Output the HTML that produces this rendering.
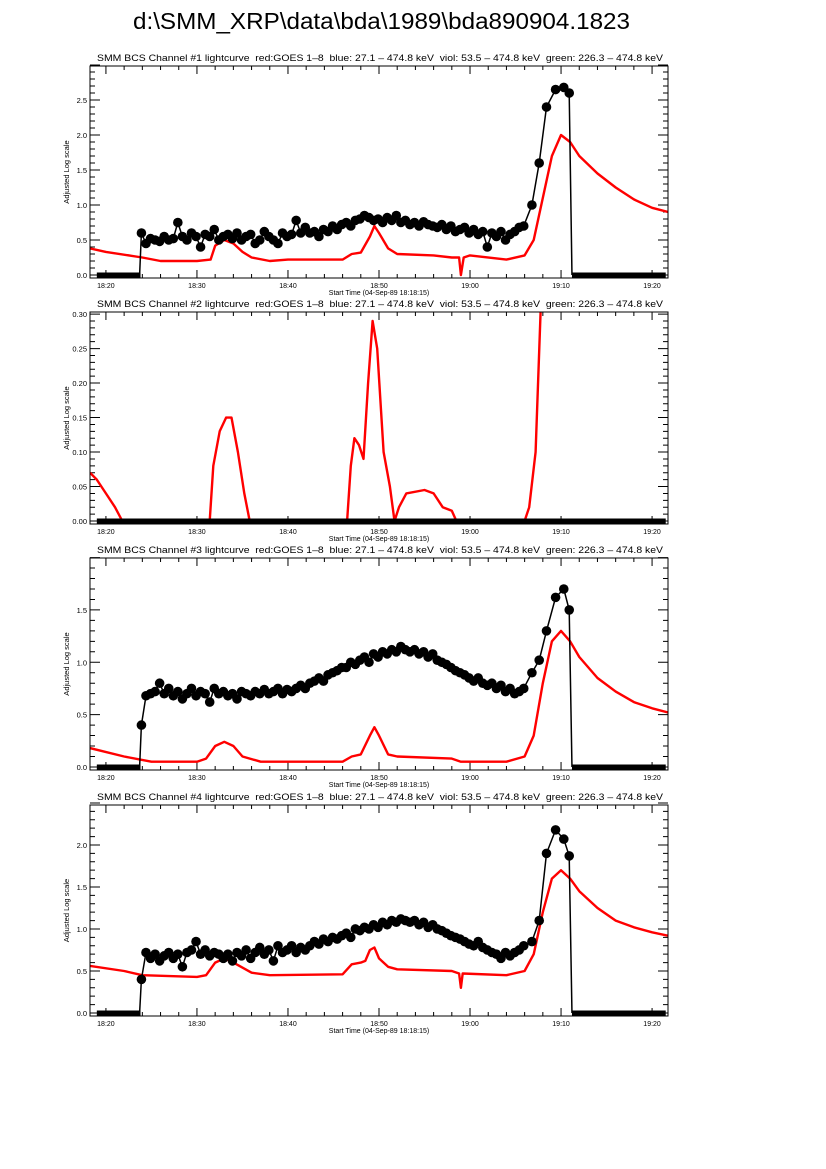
<!DOCTYPE html>
<html><head><meta charset="utf-8"><style>
body{margin:0;background:#fff;}
svg{display:block;}
svg text{font-family:"Liberation Sans",Arial,sans-serif;white-space:pre;}
</style></head><body>
<svg id="chart" width="826" height="1169" xmlns="http://www.w3.org/2000/svg">
<rect width="826" height="1169" fill="#fff"/>
<text x="133" y="29" font-size="23" font-family="Liberation Sans, sans-serif" textLength="497" lengthAdjust="spacingAndGlyphs">d:\SMM_XRP\data\bda\1989\bda890904.1823</text>
</svg>
<script>
// time in minutes after 18:00
const xTickLabels=["18:20","18:30","18:40","18:50","19:00","19:10","19:20"];
const xTickTimes=[20,30,40,50,60,70,80];
const bodyStart=23.9, bodyStep=0.5;
const peakTimes=[66.8,67.6,68.4,69.4,70.3,70.9];
const zeroSegsA=[[19,23.8],[71.2,81.5]];
const zeroSegsB=[[19,81.5]];
const tStart=18.25, tEnd=81.75;

const p1Body=[0.6,0.45,0.52,0.5,0.48,0.55,0.5,0.52,0.75,0.55,0.5,0.6,0.55,0.4,0.58,0.55,0.65,0.5,0.55,0.58,0.52,0.6,0.5,0.55,0.58,0.45,0.5,0.62,0.55,0.5,0.45,0.6,0.55,0.58,0.78,0.6,0.68,0.6,0.62,0.55,0.65,0.62,0.7,0.65,0.72,0.75,0.7,0.78,0.8,0.85,0.82,0.78,0.8,0.75,0.82,0.78,0.85,0.75,0.78,0.72,0.75,0.7,0.76,0.72,0.7,0.68,0.72,0.65,0.7,0.62,0.65,0.68,0.6,0.65,0.58,0.62,0.4,0.6,0.55,0.62,0.5,0.58,0.62,0.68,0.7];
const p1Peak=[1.0,1.6,2.4,2.65,2.68,2.6];
const p1RedT=[18.25,20,24,26,30,31.5,32,33,34,35,36,38,40,46,47,48,49,49.5,50,51,52,56,58,58.8,59,59.3,60,64,66,67,68,69,70,71,72,74,76,78,80,81.75];
const p1RedV=[0.38,0.33,0.25,0.2,0.2,0.22,0.42,0.5,0.45,0.33,0.25,0.2,0.22,0.22,0.3,0.32,0.55,0.7,0.6,0.38,0.3,0.28,0.25,0.25,0.0,0.25,0.28,0.22,0.28,0.5,1.1,1.7,2.0,1.9,1.7,1.45,1.25,1.08,0.96,0.9];

const p2RedT=[18.25,19,20,21,21.8,31.4,31.8,32.5,33.2,33.8,34.5,35.2,35.8,46.5,46.9,47.3,47.8,48.3,48.8,49.3,49.8,50.5,51.2,51.7,52.2,53,55,56,57,58,58.5,66,66.5,67.2,67.8];
const p2RedV=[0.07,0.06,0.04,0.02,0,0,0.08,0.13,0.15,0.15,0.1,0.04,0,0,0.08,0.12,0.11,0.09,0.2,0.29,0.25,0.1,0.05,0,0.02,0.04,0.045,0.04,0.02,0.015,0,0,0.02,0.1,0.32];

const p3Body=[0.4,0.68,0.7,0.72,0.8,0.7,0.75,0.68,0.72,0.65,0.7,0.75,0.68,0.72,0.7,0.62,0.75,0.7,0.72,0.68,0.7,0.65,0.72,0.7,0.68,0.72,0.7,0.74,0.7,0.72,0.75,0.7,0.74,0.72,0.75,0.78,0.75,0.8,0.82,0.85,0.82,0.88,0.9,0.92,0.95,0.95,1.0,0.98,1.02,1.05,1.0,1.08,1.05,1.1,1.08,1.12,1.1,1.15,1.12,1.1,1.12,1.08,1.1,1.05,1.08,1.02,1.0,0.98,0.95,0.92,0.9,0.88,0.85,0.82,0.85,0.8,0.78,0.8,0.75,0.78,0.72,0.75,0.7,0.72,0.75];
const p3Peak=[0.9,1.02,1.3,1.62,1.7,1.5];
const p3RedT=[18.25,22,25,30,31,32,33,34,35,37,46,47,48,49,49.5,50,51,52,58,59,64,66,67,68,69,70,71,72,74,76,78,80,81.75];
const p3RedV=[0.18,0.1,0.05,0.05,0.08,0.2,0.24,0.2,0.1,0.05,0.05,0.1,0.12,0.3,0.38,0.3,0.12,0.1,0.08,0.05,0.05,0.1,0.3,0.8,1.2,1.3,1.2,1.05,0.85,0.72,0.62,0.56,0.52];

const p4Body=[0.4,0.72,0.65,0.7,0.62,0.68,0.72,0.65,0.7,0.55,0.72,0.75,0.85,0.7,0.75,0.68,0.72,0.7,0.65,0.7,0.62,0.72,0.68,0.75,0.65,0.72,0.78,0.7,0.75,0.62,0.8,0.72,0.75,0.8,0.72,0.78,0.75,0.8,0.85,0.82,0.88,0.85,0.9,0.88,0.92,0.95,0.9,1.0,0.98,1.02,1.0,1.05,1.02,1.08,1.05,1.1,1.08,1.12,1.1,1.08,1.1,1.05,1.08,1.02,1.05,1.0,0.98,0.95,0.92,0.9,0.88,0.85,0.82,0.8,0.85,0.78,0.75,0.72,0.7,0.65,0.72,0.68,0.72,0.75,0.8];
const p4Peak=[0.85,1.1,1.9,2.18,2.07,1.87];
const p4RedT=[18.25,22,24,30,31,32,33,34,36,38,46,47,48,48.5,49,49.5,50,51,52,58,58.8,59,59.2,64,66,67,68,69,70,71,72,74,76,78,80,81.75];
const p4RedV=[0.56,0.5,0.45,0.43,0.45,0.6,0.65,0.6,0.48,0.45,0.46,0.58,0.6,0.62,0.75,0.78,0.65,0.55,0.52,0.5,0.47,0.3,0.47,0.45,0.5,0.7,1.2,1.6,1.7,1.6,1.45,1.25,1.1,1.02,0.96,0.92];

const panels=[
 {n:1,top:66,bot:278,ymin:-0.043,ymax:2.986,ticks:[0,0.5,1,1.5,2,2.5],minor:0.1,dec:1,body:p1Body,peak:p1Peak,rt:p1RedT,rv:p1RedV,zero:zeroSegsA},
 {n:2,top:312,bot:524,ymin:-0.0043,ymax:0.303,ticks:[0,0.05,0.1,0.15,0.2,0.25,0.3],minor:0.01,dec:2,body:null,peak:null,rt:p2RedT,rv:p2RedV,zero:zeroSegsB},
 {n:3,top:558,bot:770,ymin:-0.029,ymax:1.996,ticks:[0,0.5,1,1.5],minor:0.1,dec:1,body:p3Body,peak:p3Peak,rt:p3RedT,rv:p3RedV,zero:zeroSegsA},
 {n:4,top:805,bot:1016,ymin:-0.036,ymax:2.476,ticks:[0,0.5,1,1.5,2],minor:0.1,dec:1,body:p4Body,peak:p4Peak,rt:p4RedT,rv:p4RedV,zero:zeroSegsA}
];
const L=90,R=668;
const svg=document.getElementById('chart');
const NS='http://www.w3.org/2000/svg';
const FF='Liberation Sans, Arial, sans-serif';
function mk(tag,attrs,parent){const e=document.createElementNS(NS,tag);for(const k in attrs)e.setAttribute(k,attrs[k]);parent.appendChild(e);return e;}
const xs=t=>L+(t-tStart)/(tEnd-tStart)*(R-L);
panels.forEach(p=>{
 const ys=v=>p.bot-(v-p.ymin)/(p.ymax-p.ymin)*(p.bot-p.top);
 const g=mk('g',{},svg);
 
 
 const cid='clip'+p.n;
 const cp=mk('clipPath',{id:cid},g);mk('rect',{x:L,y:p.top,width:R-L,height:p.bot-p.top},cp);
 const tt=mk('text',{x:97,y:p.top-5,'font-size':9.5,'font-family':FF,textLength:566,lengthAdjust:'spacingAndGlyphs'},g);
 tt.textContent='SMM BCS Channel #'+p.n+' lightcurve  red:GOES 1\u20138  blue: 27.1 \u2013 474.8 keV  viol: 53.5 \u2013 474.8 keV  green: 226.3 \u2013 474.8 keV';
 
 
 const yl=mk('text',{x:0,y:0,'font-size':7.5,'font-family':FF,'text-anchor':'middle',transform:`translate(69,${(p.top+p.bot)/2}) rotate(-90)`},g);
 yl.textContent='Adjusted Log scale';
 
 
 const xl=mk('text',{x:(L+R)/2,y:p.bot+17,'font-size':7,'font-family':FF,'text-anchor':'middle'},g);
 xl.textContent='Start Time (04-Sep-89 18:18:15)';
 
 
 let tk='';
 for(let t=20;t<=81;t+=2){const x=xs(t);const big=(t%10===0);const len=big?8:4;tk+=`M${x},${p.bot}v${-len}M${x},${p.top}v${len}`;}
 const nmin=Math.round(p.ymax/p.minor);
 for(let i=0;i<=nmin;i++){const v=i*p.minor;const y=ys(v);const big=Math.abs((v/(p.minor*5))-Math.round(v/(p.minor*5)))<1e-6;const len=big?10:5;tk+=`M${L},${y}h${len}M${R},${y}h${-len}`;}
 const tp=mk('path',{d:tk,stroke:'#000','stroke-width':1,fill:'none'},g);
 
 
 xTickLabels.forEach((lab,i)=>{const e=mk('text',{x:xs(xTickTimes[i]),y:p.bot+10,'font-size':7,'font-family':FF,'text-anchor':'middle'},g);e.textContent=lab;
  
  });
 p.ticks.forEach(v=>{const e=mk('text',{x:L-3,y:ys(v)+3,'font-size':7.5,'font-family':FF,'text-anchor':'end'},g);e.textContent=v.toFixed(p.dec);
  
  });
 const cg=mk('g',{'clip-path':`url(#${cid})`},g);
 let d='';p.rt.forEach((t,i)=>{d+=(i?'L':'M')+xs(t).toFixed(1)+','+ys(p.rv[i]).toFixed(1);});
 const red=mk('path',{d:d,stroke:'#f00','stroke-width':2.4,fill:'none','stroke-linejoin':'round'},cg);
 
 
 p.zero.forEach(s=>{const z=mk('line',{x1:xs(s[0]),x2:xs(s[1]),y1:ys(0),y2:ys(0),stroke:'#000','stroke-width':5},cg);
  
  });
 if(p.body){
  const T=[],V=[];
  p.body.forEach((v,i)=>{T.push(bodyStart+i*bodyStep);V.push(v);});
  peakTimes.forEach((t,i)=>{T.push(t);V.push(p.peak[i]);});
  let dl=`M${xs(23.7)},${ys(0)}`;T.forEach((t,i)=>{dl+='L'+xs(t).toFixed(1)+','+ys(V[i]).toFixed(1);});dl+=`L${xs(71.2)},${ys(0)}`;
  const bl=mk('path',{d:dl,stroke:'#000','stroke-width':1.5,fill:'none'},cg);
  
  
  T.forEach((t,i)=>{const c=mk('circle',{cx:xs(t),cy:ys(V[i]),r:4.8,fill:'#000'},cg);
   
   });
 }
 const box=mk('rect',{x:L,y:p.top,width:R-L,height:p.bot-p.top,fill:'none',stroke:'#000','stroke-width':1},g);
 
 
});
</script>
</body></html>
